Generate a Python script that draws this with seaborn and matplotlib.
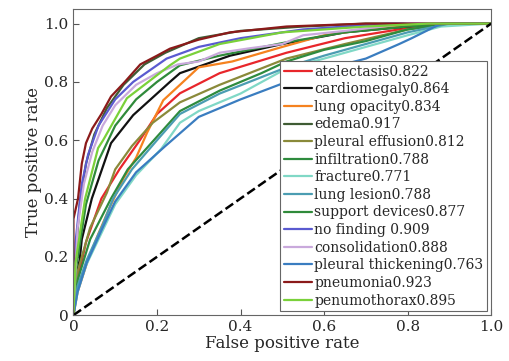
import matplotlib
matplotlib.use("Agg")
import matplotlib.pyplot as plt
import seaborn as sns

names = ["atelectasis", "cardiomegaly", "lung opacity", "edema", "pleural effusion",
         "infiltration", "fracture", "lung lesion", "support devices", "no finding ",
         "consolidation", "pleural thickening", "pneumonia", "penumothorax"]
aucs = ["0.822", "0.864", "0.834", "0.917", "0.812", "0.788", "0.771", "0.788",
        "0.877", "0.909", "0.888", "0.763", "0.923", "0.895"]
colors = ["#e8262b", "#111111", "#f5821f", "#3f5c34", "#8a8a3a", "#2e8b3e", "#80d8c6",
          "#4b9db2", "#2f8a3a", "#5a5ad0", "#c9a9dc", "#3a7dc0", "#8b1a1a", "#7ad13a"]

# ROC points (fpr, tpr)
fpr_atel = [0, 0.01, 0.03, 0.067, 0.11, 0.159, 0.2, 0.255, 0.35, 0.51, 0.65, 0.8, 0.9, 1]
tpr_atel = [0, 0.12, 0.25, 0.40, 0.50, 0.60, 0.69, 0.761, 0.83, 0.90, 0.95, 0.985, 1, 1]

fpr_card = [0, 0.005, 0.015, 0.02, 0.044, 0.09, 0.143, 0.231, 0.255, 0.375, 0.5, 0.65, 0.8, 0.9, 1]
tpr_card = [0, 0.12, 0.19, 0.26, 0.40, 0.59, 0.686, 0.80, 0.83, 0.89, 0.93, 0.97, 0.99, 1, 1]

fpr_opac = [0, 0.01, 0.035, 0.06, 0.087, 0.12, 0.15, 0.176, 0.215, 0.255, 0.3, 0.38, 0.5, 0.6, 0.75, 0.9, 1]
tpr_opac = [0, 0.08, 0.19, 0.28, 0.37, 0.47, 0.54, 0.625, 0.737, 0.79, 0.85, 0.87, 0.92, 0.96, 0.99, 1, 1]

fpr_edem = [0, 0.005, 0.015, 0.03, 0.05, 0.08, 0.12, 0.17, 0.22, 0.3, 0.4, 0.55, 0.7, 1]
tpr_edem = [0, 0.2, 0.38, 0.52, 0.62, 0.71, 0.79, 0.86, 0.90, 0.95, 0.975, 0.99, 1, 1]

fpr_effu = [0, 0.01, 0.04, 0.08, 0.1, 0.14, 0.19, 0.255, 0.35, 0.51, 0.65, 0.8, 0.9, 1]
tpr_effu = [0, 0.15, 0.30, 0.42, 0.50, 0.58, 0.66, 0.73, 0.79, 0.88, 0.93, 0.98, 1, 1]

fpr_infi = [0, 0.01, 0.04, 0.09, 0.13, 0.18, 0.255, 0.35, 0.45, 0.51, 0.6, 0.7, 0.8, 0.9, 1]
tpr_infi = [0, 0.12, 0.26, 0.40, 0.50, 0.58, 0.70, 0.77, 0.83, 0.87, 0.91, 0.94, 0.98, 1, 1]

fpr_frac = [0, 0.01, 0.03, 0.07, 0.1, 0.15, 0.21, 0.255, 0.3, 0.4, 0.51, 0.6, 0.7, 0.8, 0.88, 1]
tpr_frac = [0, 0.08, 0.17, 0.29, 0.38, 0.48, 0.57, 0.66, 0.70, 0.76, 0.846, 0.88, 0.92, 0.96, 0.99, 1]

fpr_lesi = [0, 0.01, 0.032, 0.07, 0.095, 0.14, 0.2, 0.255, 0.35, 0.51, 0.6, 0.7, 0.8, 0.9, 1]
tpr_lesi = [0, 0.10, 0.19, 0.31, 0.40, 0.50, 0.60, 0.69, 0.76, 0.85, 0.89, 0.93, 0.97, 1, 1]

fpr_supp = [0, 0.005, 0.03, 0.06, 0.1, 0.15, 0.2, 0.255, 0.35, 0.51, 0.65, 0.8, 0.9, 1]
tpr_supp = [0, 0.15, 0.38, 0.53, 0.65, 0.74, 0.80, 0.857, 0.89, 0.936, 0.97, 0.99, 1, 1]

fpr_nofi = [0, 0.005, 0.02, 0.035, 0.06, 0.1, 0.143, 0.223, 0.3, 0.4, 0.55, 0.75, 1]
tpr_nofi = [0, 0.25, 0.45, 0.55, 0.65, 0.74, 0.80, 0.88, 0.92, 0.95, 0.98, 1, 1]

fpr_cons = [0, 0.01, 0.025, 0.045, 0.07, 0.1, 0.15, 0.2, 0.25, 0.3, 0.35, 0.42, 0.5, 0.55, 0.65, 0.8, 1]
tpr_cons = [0, 0.3, 0.45, 0.56, 0.65, 0.72, 0.79, 0.83, 0.86, 0.87, 0.9, 0.915, 0.93, 0.96, 0.975, 1, 1]

fpr_thic = [0, 0.01, 0.032, 0.07, 0.1, 0.15, 0.22, 0.3, 0.4, 0.54, 0.62, 0.7, 0.78, 0.81, 0.88, 1]
tpr_thic = [0, 0.08, 0.18, 0.30, 0.39, 0.49, 0.58, 0.68, 0.74, 0.816, 0.85, 0.88, 0.93, 0.95, 1, 1]

fpr_pneu = [0, 0, 0.011, 0.02, 0.03, 0.045, 0.067, 0.09, 0.123, 0.16, 0.2, 0.231, 0.3, 0.375, 0.51, 0.7, 1]
tpr_pneu = [0, 0.33, 0.40, 0.52, 0.59, 0.64, 0.69, 0.75, 0.80, 0.86, 0.89, 0.914, 0.945, 0.97, 0.99, 1, 1]

fpr_pnth = [0, 0.005, 0.028, 0.059, 0.071, 0.128, 0.231, 0.255, 0.35, 0.5, 0.7, 0.85, 1]
tpr_pnth = [0, 0.18, 0.40, 0.573, 0.60, 0.744, 0.857, 0.88, 0.93, 0.97, 0.99, 1, 1]

fprs = [fpr_atel, fpr_card, fpr_opac, fpr_edem, fpr_effu, fpr_infi, fpr_frac,
        fpr_lesi, fpr_supp, fpr_nofi, fpr_cons, fpr_thic, fpr_pneu, fpr_pnth]
tprs = [tpr_atel, tpr_card, tpr_opac, tpr_edem, tpr_effu, tpr_infi, tpr_frac,
        tpr_lesi, tpr_supp, tpr_nofi, tpr_cons, tpr_thic, tpr_pneu, tpr_pnth]

sns.set_style("ticks")
plt.rcParams["font.family"] = ["DejaVu Serif"]

fig = plt.figure(figsize=(5.1, 3.61), dpi=100)
ax = fig.add_axes([0.144, 0.127, 0.819, 0.848])

for fx, ty, name, auc, col in zip(fprs, tprs, names, aucs, colors):
    sns.lineplot(x=fx, y=ty, color=col, label=name + auc, sort=False,
                 estimator=None, linewidth=1.6, ax=ax)

# chance line
sns.lineplot(x=[0, 1], y=[0, 1], color="black", linestyle="--", linewidth=1.8,
             dashes=(4, 2.5), ax=ax)

ax.set_xlim(0, 1)
ax.set_ylim(0, 1.05)
ax.set_xticks([0, 0.2, 0.4, 0.6, 0.8, 1.0])
ax.set_xticklabels(["0", "0.2", "0.4", "0.6", "0.8", "1.0"])
ax.set_yticks([0, 0.2, 0.4, 0.6, 0.8, 1.0])
ax.set_yticklabels(["0", "0.2", "0.4", "0.6", "0.8", "1.0"])
ax.tick_params(direction="in", labelsize=11, length=4, color="#555555")
for s in ax.spines.values():
    s.set_color("#666666")
ax.set_xlabel("False positive rate", fontsize=12, labelpad=1)
ax.set_ylabel("True positive rate", fontsize=12, labelpad=2)

leg = ax.legend(loc="lower right", fontsize=10, frameon=True, fancybox=False,
                framealpha=1, edgecolor="#666666", borderaxespad=0.3,
                labelspacing=0.26, handlelength=2.0, handletextpad=0.2,
                borderpad=0.25)
leg.get_frame().set_linewidth(0.8)

fig.savefig("out.png", dpi=100)
